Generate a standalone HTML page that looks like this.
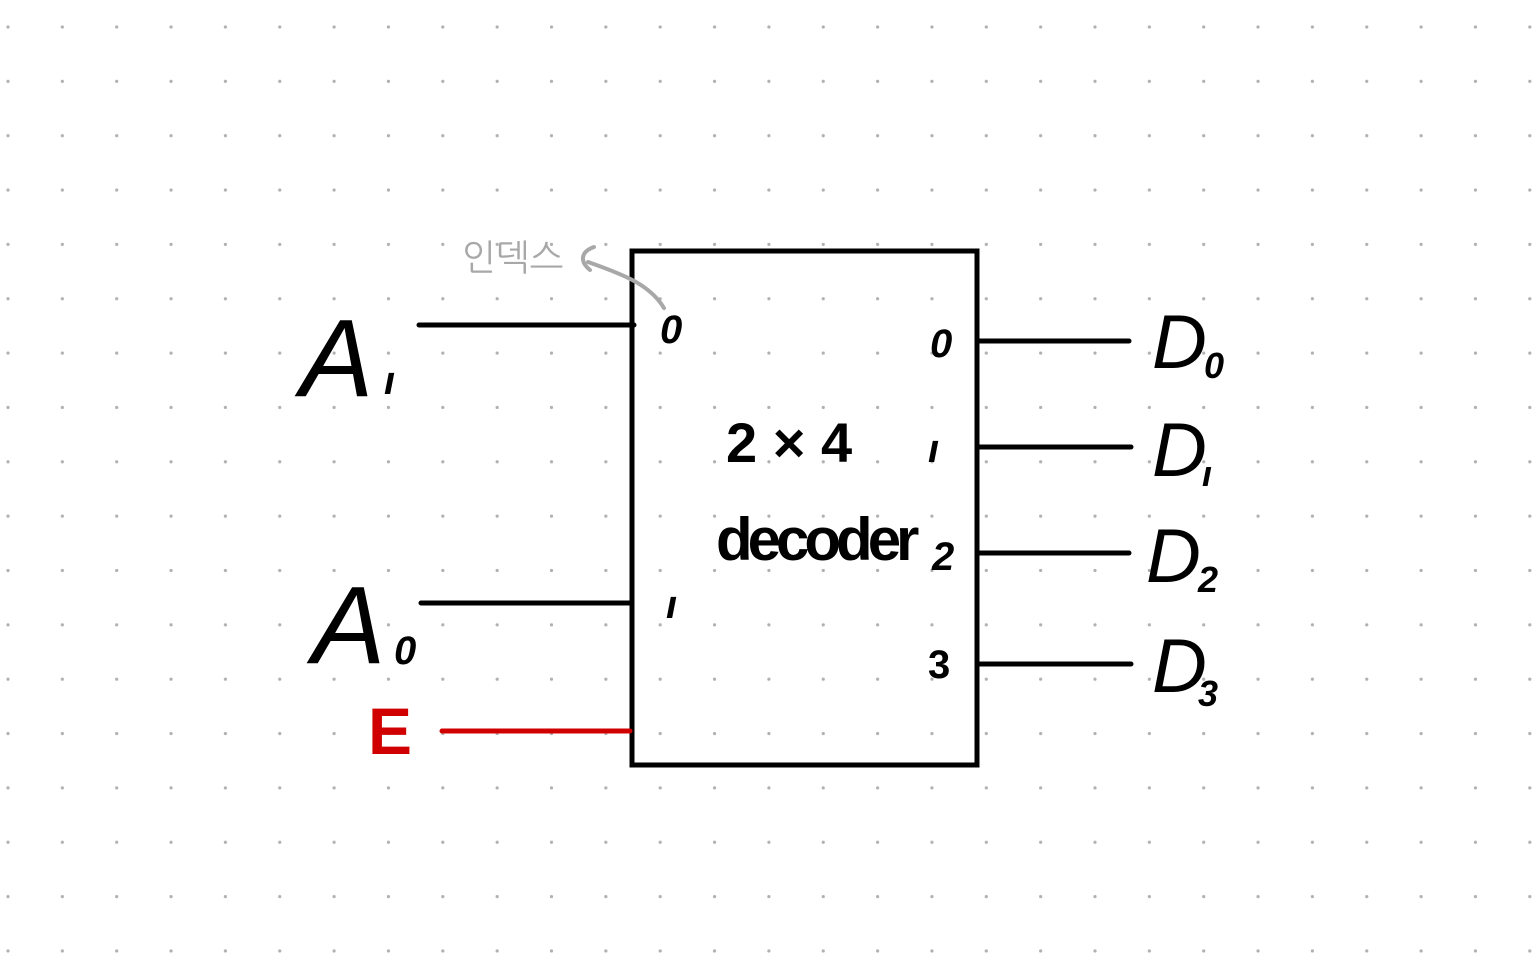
<!DOCTYPE html>
<html><head><meta charset="utf-8"><style>
html,body{margin:0;padding:0;background:#fff;}
svg{display:block;}
</style></head><body>
<svg width="1532" height="979" viewBox="0 0 1532 979" xmlns="http://www.w3.org/2000/svg">
<defs>
<pattern id="dots" x="8" y="27" width="54.35" height="54.35" patternUnits="userSpaceOnUse">
<circle cx="0" cy="0" r="1.6" fill="#b0b0b0"/><circle cx="54.35" cy="0" r="1.6" fill="#b0b0b0"/><circle cx="0" cy="54.35" r="1.6" fill="#b0b0b0"/><circle cx="54.35" cy="54.35" r="1.6" fill="#b0b0b0"/>
</pattern>
</defs>
<rect x="0" y="0" width="1532" height="979" fill="url(#dots)"/>
<g stroke="#000" stroke-width="5" fill="none" stroke-linecap="round">
<rect x="632" y="251" width="345" height="514"/>
<line x1="419" y1="325" x2="634" y2="325"/>
<line x1="421" y1="603" x2="632" y2="603"/>
<line x1="980" y1="341" x2="1129" y2="341"/>
<line x1="980" y1="447" x2="1131" y2="447"/>
<line x1="980" y1="553" x2="1129" y2="553"/>
<line x1="980" y1="664" x2="1131" y2="664"/>
</g>
<line x1="442" y1="731" x2="630" y2="731" stroke="#d00000" stroke-width="5" stroke-linecap="round"/>
<path d="M664 308 C650 285 625 275 588 262 M594 247 C580 252 580 262 590 270" stroke="#a8a8a8" stroke-width="4" fill="none" stroke-linecap="round"/>
<g font-family="'Liberation Sans','NanumGothic',sans-serif" font-style="italic" font-weight="bold">
<text x="462" y="270" font-size="36" fill="#a8a8a8" font-style="normal" font-weight="normal">인덱스</text>
<text x="300" y="396" font-size="110" fill="#000" font-weight="normal">A</text>
<text x="384" y="394" font-size="40" fill="#000">ı</text>
<text x="312" y="663" font-size="110" fill="#000" font-weight="normal">A</text>
<text x="394" y="664" font-size="40" fill="#000">0</text>
<text x="368" y="754" font-size="66" fill="#d00000" font-style="normal">E</text>
<text x="660" y="343" font-size="40" fill="#000">0</text>
<text x="666" y="618" font-size="40" fill="#000">ı</text>
<text x="930" y="357" font-size="40" fill="#000">0</text>
<text x="928" y="462" font-size="40" fill="#000">ı</text>
<text x="932" y="570" font-size="40" fill="#000">2</text>
<text x="928" y="678" font-size="40" fill="#000" font-style="normal">3</text>
<text x="726" y="462" font-size="56" fill="#000" font-style="normal">2 × 4</text>
<text x="716" y="560" font-size="60" fill="#000" letter-spacing="-5" font-style="normal">decoder</text>
<text x="1152" y="368" font-size="76" fill="#000" font-weight="normal">D</text><text x="1204" y="378" font-size="36" fill="#000">0</text>
<text x="1152" y="476" font-size="76" fill="#000" font-weight="normal">D</text><text x="1202" y="486" font-size="36" fill="#000">ı</text>
<text x="1146" y="582" font-size="76" fill="#000" font-weight="normal">D</text><text x="1198" y="592" font-size="36" fill="#000">2</text>
<text x="1152" y="692" font-size="76" fill="#000" font-weight="normal">D</text><text x="1198" y="706" font-size="36" fill="#000">3</text>
</g>
</svg>
</body></html>
